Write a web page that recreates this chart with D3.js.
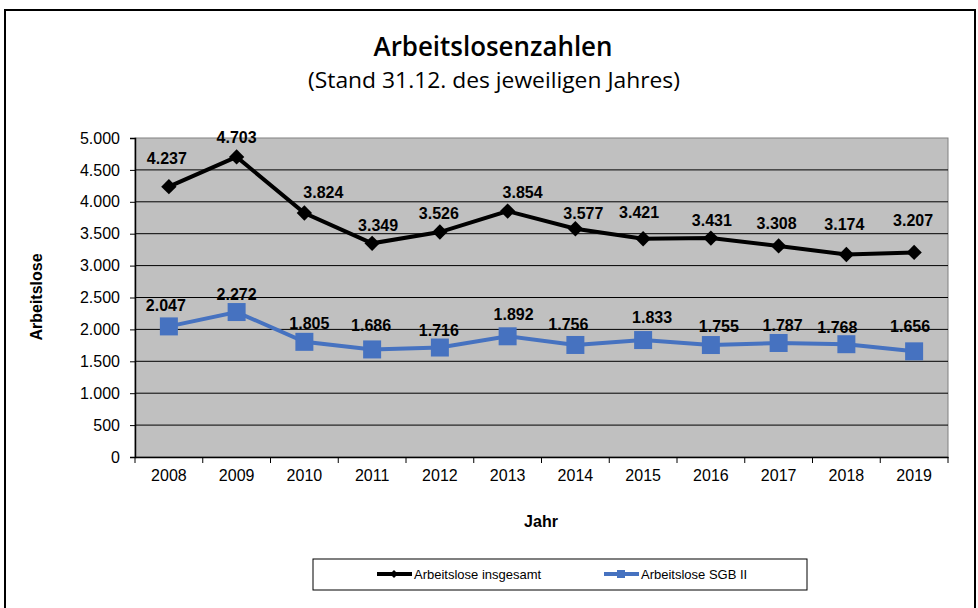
<!DOCTYPE html>
<html>
<head>
<meta charset="utf-8">
<script src="https://cdn.jsdelivr.net/npm/d3@7"></script>
<style>
  body { margin: 0; background: #fff; }
  svg text { font-family: Arial, "Liberation Sans", sans-serif; }
</style>
</head>
<body>
<div id="chart"></div>
<script>
// data
var years = ["2008", "2009", "2010", "2011", "2012", "2013", "2014", "2015", "2016", "2017", "2018", "2019"];
var insgesamt = [4237, 4703, 3824, 3349, 3526, 3854, 3577, 3421, 3431, 3308, 3174, 3207];
var sgb2 = [2047, 2272, 1805, 1686, 1716, 1892, 1756, 1833, 1755, 1787, 1768, 1656];
var yTicks = [0, 500, 1000, 1500, 2000, 2500, 3000, 3500, 4000, 4500, 5000];

// the data labels were placed by hand in the original, pixel nudges from the marker
var nudgeInsg = [[-2, -28], [0, -20], [19, -21], [6, -18], [-1, -19], [15, -19],
                 [8, -16], [-4, -27], [1, -18], [-2, -23], [-2, -30], [-1, -32]];
var nudgeSgb = [[-3, -21], [0, -18], [5, -19], [-1, -24], [-1, -17], [6, -22],
                [-7, -21], [9, -23], [8, -19], [4, -18], [-9, -17], [-4, -25]];

var W = 978, H = 608;
var margin = { left: 135, top: 138, right: W - 948, bottom: H - 457 };
var width = W - margin.left - margin.right,
    height = H - margin.top - margin.bottom;

var fmt = function (v) { return d3.format(",")(v).replace(/,/g, "."); };

var svg = d3.select("#chart").append("svg")
    .attr("width", W)
    .attr("height", H);

// outer frame
svg.append("rect")
    .attr("x", 5).attr("y", 10)
    .attr("width", 970).attr("height", 620)
    .attr("fill", "none")
    .attr("stroke", "#000")
    .attr("stroke-width", 2);

// titles (narrow font squeezed to fit)
svg.append("text")
    .text("Arbeitslosenzahlen")
    .attr("x", 493).attr("y", 56)
    .attr("text-anchor", "middle")
    .style("font-family", "'Open Sans', sans-serif")
    .style("font-size", "27px")
    .style("font-weight", "600")
    .attr("textLength", 239)
    .attr("lengthAdjust", "spacingAndGlyphs");

svg.append("text")
    .text("(Stand 31.12. des jeweiligen Jahres)")
    .attr("x", 494).attr("y", 88)
    .attr("text-anchor", "middle")
    .style("font-family", "'Open Sans', sans-serif")
    .style("font-size", "22px")
    .attr("textLength", 372)
    .attr("lengthAdjust", "spacingAndGlyphs");

var g = svg.append("g")
    .attr("transform", "translate(" + margin.left + "," + margin.top + ")");

var x = d3.scaleBand().domain(years).range([0, width]);
var y = d3.scaleLinear().domain([0, 5000]).range([height, 0]);

// plot background
g.append("rect")
    .attr("width", width).attr("height", height)
    .attr("fill", "#c0c0c0")
    .attr("stroke", "#808080")
    .attr("stroke-width", 1);

// gridlines
g.selectAll(".grid")
    .data(yTicks.slice(1, -1))
    .enter().append("line")
    .attr("class", "grid")
    .attr("x1", 0).attr("x2", width)
    .attr("y1", function (d) { return y(d); })
    .attr("y2", function (d) { return y(d); })
    .attr("stroke", "#000")
    .attr("stroke-width", 1);

// y axis
var yAxis = g.append("g")
    .call(d3.axisLeft(y).tickValues(yTicks).tickFormat(fmt).tickSize(5).tickPadding(10));
yAxis.select(".domain").attr("stroke", "#000").attr("stroke-width", 1.5);
yAxis.selectAll("text").style("font-size", "16px").attr("fill", "#000")
    .style("font-family", "Arial, 'Liberation Sans', sans-serif");

// x axis, ticks on category boundaries
var xAxis = g.append("g")
    .attr("transform", "translate(0," + height + ")")
    .call(d3.axisBottom(x).tickSize(0).tickPadding(13));
xAxis.select(".domain").attr("stroke", "#000").attr("stroke-width", 1.5);
xAxis.selectAll("text").style("font-size", "16px").attr("fill", "#000")
    .style("font-family", "Arial, 'Liberation Sans', sans-serif");
xAxis.selectAll(".bound")
    .data(d3.range(years.length + 1))
    .enter().append("line")
    .attr("class", "bound")
    .attr("x1", function (i) { return i * x.step(); })
    .attr("x2", function (i) { return i * x.step(); })
    .attr("y1", 0).attr("y2", 6)
    .attr("stroke", "#000");

// axis titles
svg.append("text")
    .text("Arbeitslose")
    .attr("transform", "translate(42,297) rotate(-90)")
    .attr("text-anchor", "middle")
    .style("font-size", "16px")
    .style("font-weight", "bold");

svg.append("text")
    .text("Jahr")
    .attr("x", 541).attr("y", 527)
    .attr("text-anchor", "middle")
    .style("font-size", "16px")
    .style("font-weight", "bold");

var cx = function (d, i) { return x(years[i]) + x.bandwidth() / 2; };
var line = d3.line()
    .x(function (d, i) { return cx(d, i); })
    .y(function (d) { return y(d); });

var blue = "#4672c0";

// series: insgesamt
g.append("path")
    .datum(insgesamt)
    .attr("d", line)
    .attr("fill", "none")
    .attr("stroke", "#000")
    .attr("stroke-width", 4);

g.selectAll(".diamond")
    .data(insgesamt)
    .enter().append("path")
    .attr("class", "diamond")
    .attr("d", d3.symbol().type(d3.symbolDiamond2).size(150))
    .attr("transform", function (d, i) { return "translate(" + cx(d, i) + "," + y(d) + ")"; })
    .attr("fill", "#000");

// series: SGB II
g.append("path")
    .datum(sgb2)
    .attr("d", line)
    .attr("fill", "none")
    .attr("stroke", blue)
    .attr("stroke-width", 4);

g.selectAll(".square")
    .data(sgb2)
    .enter().append("rect")
    .attr("class", "square")
    .attr("x", function (d, i) { return cx(d, i) - 9; })
    .attr("y", function (d) { return y(d) - 9; })
    .attr("width", 18).attr("height", 18)
    .attr("fill", blue);

// data labels
[[insgesamt, nudgeInsg], [sgb2, nudgeSgb]].forEach(function (s) {
    var series = s[0], nudge = s[1];
    g.selectAll(null)
        .data(series)
        .enter().append("text")
        .text(fmt)
        .attr("x", function (d, i) { return cx(d, i) + nudge[i][0]; })
        .attr("y", function (d, i) { return y(d) + nudge[i][1]; })
        .attr("dy", "0.36em")
        .attr("text-anchor", "middle")
        .style("font-size", "16px")
        .style("font-weight", "bold");
});

// legend
var leg = svg.append("g");
leg.append("rect")
    .attr("x", 313).attr("y", 559)
    .attr("width", 494).attr("height", 31)
    .attr("fill", "#fff")
    .attr("stroke", "#000")
    .attr("stroke-width", 1);

var legItems = [
    { name: "Arbeitslose insgesamt", color: "#000", x0: 377, marker: "diamond" },
    { name: "Arbeitslose SGB II", color: blue, x0: 604, marker: "square" }
];
legItems.forEach(function (it) {
    leg.append("line")
        .attr("x1", it.x0).attr("x2", it.x0 + 35)
        .attr("y1", 574).attr("y2", 574)
        .attr("stroke", it.color)
        .attr("stroke-width", 4);
    if (it.marker == "diamond") {
        leg.append("path")
            .attr("d", d3.symbol().type(d3.symbolDiamond2).size(40))
            .attr("transform", "translate(" + (it.x0 + 17) + ",574)")
            .attr("fill", it.color);
    } else {
        leg.append("rect")
            .attr("x", it.x0 + 13).attr("y", 570)
            .attr("width", 8).attr("height", 8)
            .attr("fill", it.color);
    }
    leg.append("text")
        .text(it.name)
        .attr("x", it.x0 + 37).attr("y", 578.5)
        .style("font-size", "13px");
});
</script>
</body>
</html>
